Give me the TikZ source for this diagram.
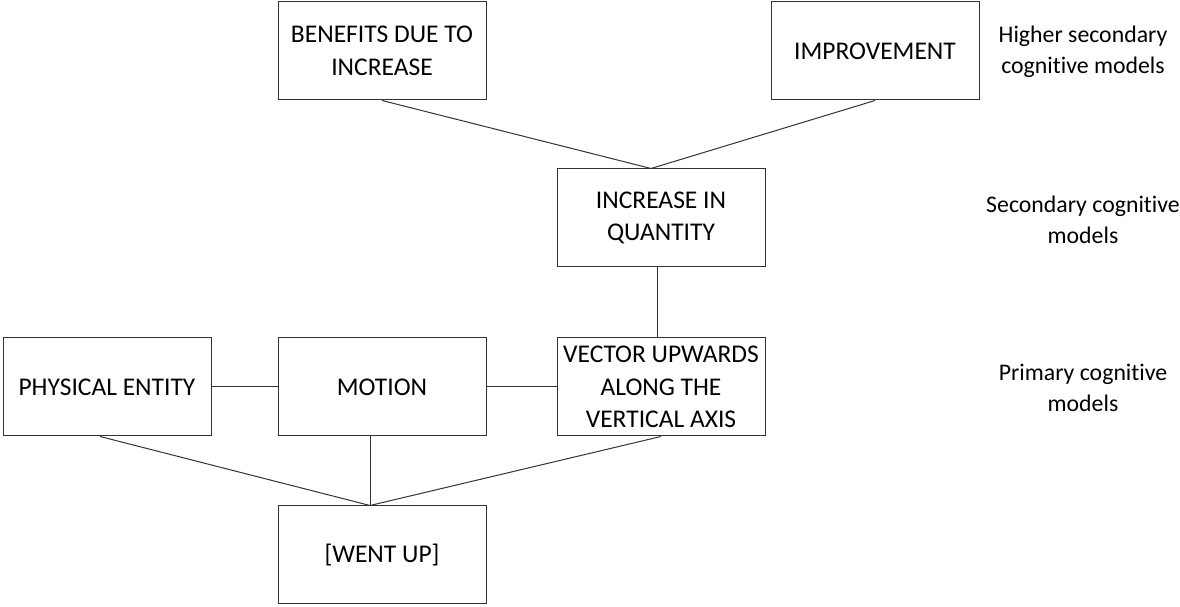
\documentclass[tikz,border=0pt]{standalone}
\usepackage{fontspec}
\setmainfont[Ligatures=NoCommon]{Carlito}
\usepackage{tikz}
\usetikzlibrary{positioning}

\tikzset{
  model/.style={draw=black!80, line width=1pt, minimum width=208pt, minimum height=98pt,
    align=center, inner sep=2pt, font=\fontsize{25.5}{32.5}\selectfont},
  level/.style={align=center, font=\fontsize{23.8}{31}\selectfont},
  link/.style={draw=black!80, line width=1pt}
}

\begin{document}
\begin{tikzpicture}[x=1pt, y=1pt]
    \useasboundingbox (0,0) rectangle (1180,607);

    % higher secondary models
    \node[model] (benefits) at (382,556) {BENEFITS DUE TO\\INCREASE};
    \node[model] (improvement) at (875,556) {IMPROVEMENT};
    % secondary model
    \node[model] (increase) at (661,389) {INCREASE IN\\QUANTITY};
    % primary models
    \node[model] (physical) at (107,220) {PHYSICAL ENTITY};
    \node[model] (motion) at (382,220) {MOTION};
    \node[model] (vector) at (661,220) {VECTOR UPWARDS\\ALONG THE\\VERTICAL AXIS};
    \node[model] (wentup) at (382,52) {[WENT UP]};

    \coordinate (topjoin) at ([xshift=-10pt]increase.north);
    \coordinate (lowjoin) at ([xshift=-12pt]wentup.north);

    \draw[link] (benefits.south) -- (topjoin);
    \draw[link] (improvement.south) -- (topjoin);
    \draw[link] ([xshift=-4pt]increase.south) -- ([xshift=-4pt]vector.north);
    \draw[link] (physical) -- (motion);
    \draw[link] (motion) -- (vector);
    \draw[link] ([xshift=-7pt]physical.south) -- (lowjoin);
    \draw[link] ([xshift=-12pt]motion.south) -- (lowjoin);
    \draw[link] (vector.south) -- (lowjoin);

    % level labels
    \node[level] (highlabel) at (1083,555) {Higher secondary\\cognitive models};
    \node[level] (seclabel) at (1083,387) {Secondary cognitive\\models};
    \node[level] (primlabel) at (1083,219) {Primary cognitive\\models};

  \end{tikzpicture}
\end{document}
